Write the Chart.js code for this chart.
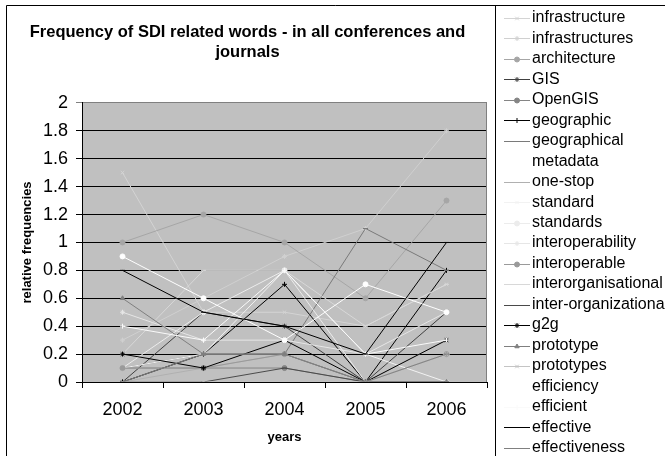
<!DOCTYPE html>
<html>
<head>
<meta charset="utf-8">
<script src="https://cdn.jsdelivr.net/npm/chart.js@4/dist/chart.umd.min.js"></script>
<style>
  html, body { margin: 0; padding: 0; background: #fff; }
  canvas { display: block; }
</style>
</head>
<body>
<canvas id="c" width="665" height="456"></canvas>
<script>
// Years on the x axis
const years = ['2002', '2003', '2004', '2005', '2006'];

// Relative frequencies per word, one value per year
const infrastructure       = [1.5, 0.5, 0.5, 0.4, 0.7];
const infrastructures      = [0.3, 0.6, 0.9, 1.1, 1.8];
const architecture         = [1.0, 1.2, 1.0, 0.6, 1.3];
const gis                  = [0.0, 0.5, 0.4, 0.0, 0.5];
const openGis              = [0.1, 0.1, 0.1, 0.0, 0.2];
const geographic           = [0.0, 0.2, 0.7, 0.0, 0.8];
const geographicalMetadata = [0.1, 0.2, 0.2, 1.1, 0.8];
const oneStop              = [0.0, 0.1, 0.2, 0.0, 0.3];
const standard             = [0.1, 0.2, 0.8, 0.2, 0.0];
const standards            = [0.1, 0.5, 0.8, 0.0, 0.2];
const interoperability     = [0.5, 0.3, 0.3, 0.2, 0.5];
const interoperable        = [0.1, 0.1, 0.2, 0.0, 0.2];
const interorganisational  = [0.2, 0.8, 0.8, 0.4, 0.7];
const interOrganizational  = [0.0, 0.0, 0.1, 0.0, 0.0];
const g2g                  = [0.2, 0.1, 0.3, 0.0, 0.3];
const prototype            = [0.6, 0.2, 0.2, 0.0, 0.0];
const prototypes           = [0.0, 0.0, 0.0, 0.0, 0.2];
const efficiency           = [0.9, 0.6, 0.3, 0.7, 0.5];
const efficient            = [0.4, 0.3, 0.8, 0.2, 0.3];
const effective            = [0.8, 0.5, 0.4, 0.2, 1.0];
const effectiveness        = [0.0, 0.2, 0.2, 0.0, 0.2];

// Y axis range
const yMin = 0, yMax = 2, yStep = 0.2;

// Series: label lines, values, grey shade and marker
const series = [
  { label: ['infrastructure'],              data: infrastructure,       color: '#d4d4d4', marker: 'crossRot' },
  { label: ['infrastructures'],             data: infrastructures,      color: '#d0d0d0', marker: 'star' },
  { label: ['architecture'],                data: architecture,         color: '#a6a6a6', marker: 'circle' },
  { label: ['GIS'],                         data: gis,                  color: '#404040', marker: 'star' },
  { label: ['OpenGIS'],                     data: openGis,              color: '#858585', marker: 'circle' },
  { label: ['geographic'],                  data: geographic,           color: '#000000', marker: 'cross' },
  { label: ['geographical', 'metadata'],    data: geographicalMetadata, color: '#7a7a7a', marker: 'line' },
  { label: ['one-stop'],                    data: oneStop,              color: '#b0b0b0', marker: 'line' },
  { label: ['standard'],                    data: standard,             color: '#f2f2f2', marker: 'crossRot' },
  { label: ['standards'],                   data: standards,            color: '#ececec', marker: 'circle' },
  { label: ['interoperability'],            data: interoperability,     color: '#e6e6e6', marker: 'star' },
  { label: ['interoperable'],               data: interoperable,        color: '#9a9a9a', marker: 'circle' },
  { label: ['interorganisational'],         data: interorganisational,  color: '#d8d8d8', marker: 'line' },
  { label: ['inter-organizational'],        data: interOrganizational,  color: '#4a4a4a', marker: 'line' },
  { label: ['g2g'],                         data: g2g,                  color: '#000000', marker: 'star' },
  { label: ['prototype'],                   data: prototype,            color: '#7f7f7f', marker: 'triangle' },
  { label: ['prototypes'],                  data: prototypes,           color: '#c4c4c4', marker: 'crossRot' },
  { label: ['efficiency'],                  data: efficiency,           color: '#ffffff', marker: 'circle' },
  { label: ['efficient'],                   data: efficient,            color: '#fafafa', marker: 'cross' },
  { label: ['effective'],                   data: effective,            color: '#000000', marker: 'line' },
  { label: ['effectiveness'],               data: effectiveness,        color: '#808080', marker: 'line' }
];

const FONT = '"Liberation Sans", Arial, Helvetica, sans-serif';

// Grey plot area with its frame, plus the outer chart / legend rules
const framePlugin = {
  id: 'frame',
  beforeDraw(chart) {
    const { ctx, chartArea: a } = chart;
    ctx.save();
    ctx.fillStyle = '#c0c0c0';
    ctx.fillRect(a.left, a.top, a.right - a.left, a.bottom - a.top);
    ctx.restore();
  },
  beforeDatasetsDraw(chart) {
    const { ctx, chartArea: a } = chart;
    ctx.save();
    ctx.strokeStyle = '#808080';
    ctx.lineWidth = 1;
    ctx.beginPath();
    ctx.moveTo(Math.round(a.right) - 0.5, Math.round(a.top));
    ctx.lineTo(Math.round(a.right) - 0.5, Math.round(a.bottom));
    ctx.stroke();
    ctx.restore();
  },
  afterDraw(chart) {
    const { ctx, width, height } = chart;
    ctx.save();
    ctx.strokeStyle = '#000';
    ctx.lineWidth = 1;
    ctx.beginPath();
    ctx.moveTo(6.5, height);
    ctx.lineTo(6.5, 5.5);
    ctx.lineTo(width, 5.5);
    ctx.moveTo(495.5, 5.5);
    ctx.lineTo(495.5, height);
    ctx.stroke();
    ctx.restore();
  }
};

// Legend column on the right, one row per text line
const legendPlugin = {
  id: 'sideLegend',
  afterDraw(chart) {
    const { ctx } = chart;
    const lineX1 = 504, lineX2 = 530, textX = 532, y0 = 17.7, dy = 20.49;
    const drawPoint = Chart.helpers && Chart.helpers.drawPoint;
    let row = 0;
    ctx.save();
    ctx.font = '16px ' + FONT;
    ctx.textBaseline = 'middle';
    ctx.textAlign = 'left';
    chart.data.datasets.forEach((ds) => {
      const y = y0 + row * dy;
      ctx.strokeStyle = ds.borderColor;
      ctx.fillStyle = ds.borderColor;
      ctx.lineWidth = 1;
      ctx.beginPath();
      ctx.moveTo(lineX1, Math.round(y) + 0.5);
      ctx.lineTo(lineX2, Math.round(y) + 0.5);
      ctx.stroke();
      if (drawPoint) {
        drawPoint(ctx, { pointStyle: ds.pointStyle, radius: 2.5, borderWidth: 1, rotation: 0 }, (lineX1 + lineX2) / 2, Math.round(y) + 0.5);
      }
      ctx.fillStyle = '#000';
      ds.labelLines.forEach((t) => {
        ctx.fillText(t, textX, y0 + row * dy);
        row++;
      });
    });
    ctx.restore();
  }
};

const n = series.length;
const datasets = series.map((s, i) => ({
  label: s.label.join(' '),
  labelLines: s.label,
  data: s.data,
  borderColor: s.color,
  backgroundColor: s.color,
  pointBackgroundColor: s.color,
  pointBorderColor: s.color,
  pointStyle: s.marker,
  pointRadius: 2.5,
  pointBorderWidth: 1,
  borderWidth: 1,
  tension: 0,
  fill: false,
  order: n - i
}));

new Chart(document.getElementById('c'), {
  type: 'line',
  data: { labels: years, datasets },
  options: {
    responsive: false,
    devicePixelRatio: 1,
    animation: false,
    layout: { padding: { left: 8, right: 178, top: 0, bottom: 0 } },
    plugins: {
      legend: { display: false },
      tooltip: { enabled: false },
      title: {
        display: true,
        text: ['Frequency of SDI related words - in all conferences and', 'journals'],
        color: '#000',
        font: { family: FONT, size: 16.5, weight: 'bold', lineHeight: 1.27 },
        padding: { top: 21.5, bottom: 39.5 }
      }
    },
    scales: {
      x: {
        offset: true,
        grid: { display: true, drawOnChartArea: false, drawTicks: true, tickLength: 6, offset: true, color: '#000' },
        border: { display: true, color: '#000', width: 1 },
        ticks: { color: '#000', font: { family: FONT, size: 18 }, padding: 11, maxRotation: 0 },
        title: {
          display: true, text: 'years', color: '#000',
          font: { family: FONT, size: 13, weight: 'bold', lineHeight: 1.2 },
          padding: { top: 0, bottom: 11 }
        },
        afterFit(scale) { scale.height = 74; }
      },
      y: {
        min: yMin, max: yMax,
        ticks: {
          stepSize: yStep, color: '#000', font: { family: FONT, size: 18 }, padding: 8,
          callback: (v) => String(Number(v.toFixed(1)))
        },
        grid: {
          color: (c) => (c.tick && c.tick.value === yMax ? '#808080' : '#000'),
          lineWidth: 1, drawTicks: true, tickLength: 6
        },
        border: { display: true, color: '#000', width: 1 },
        title: {
          display: true, text: 'relative frequencies', color: '#000',
          font: { family: FONT, size: 13, weight: 'bold', lineHeight: 1.2 },
          padding: { top: 12, bottom: 0 }
        },
        afterFit(scale) { scale.width = 74; }
      }
    }
  },
  plugins: [framePlugin, legendPlugin]
});
</script>
</body>
</html>
